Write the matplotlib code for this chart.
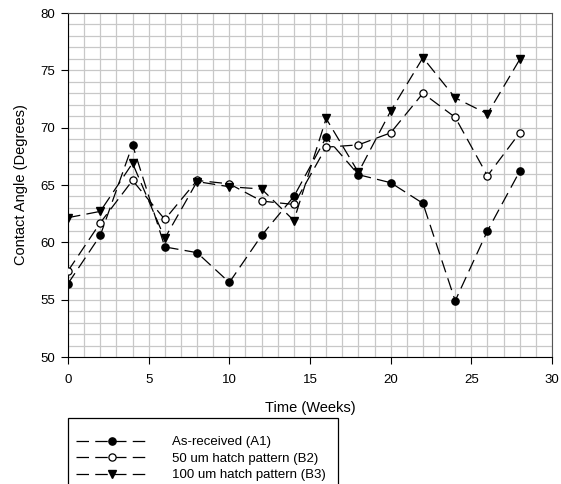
import matplotlib
matplotlib.use("Agg")
import matplotlib.pyplot as plt
from matplotlib.patches import Rectangle
import numpy as np

plt.rcParams['font.family'] = ['Liberation Sans', 'DejaVu Sans']

weeks = [0, 2, 4, 6, 8, 10, 12, 14, 16, 18, 20, 22, 24, 26, 28]
a1 = [56.4, 60.6, 68.5, 59.6, 59.1, 56.5, 60.6, 64.0, 69.15, 65.9, 65.2, 63.4, 54.9, 61.0, 66.2]
b2 = [57.5, 61.7, 65.4, 62.0, 65.4, 65.1, 63.6, 63.3, 68.3, 68.5, 69.55, 73.0, 70.9, 65.8, 69.55]
b3 = [62.15, 62.7, 66.9, 60.35, 65.3, 64.85, 64.65, 61.9, 70.8, 66.1, 71.45, 76.1, 72.6, 71.2, 75.95]
labels = ['As-received (A1)', '50 um hatch pattern (B2)', '100 um hatch pattern (B3)']
xticks = [0, 5, 10, 15, 20, 25, 30]
yticks = [50, 55, 60, 65, 70, 75, 80]

fig = plt.figure(figsize=(5.61, 4.84), dpi=100)
ax = fig.add_axes([68/561, 1-357/484, (552-68)/561, (357-13)/484])

dash = (0, (10, 5))
ax.plot(weeks, a1, linestyle=dash, color='black', lw=0.9, marker='o', ms=5.2,
        mfc='black', mec='black', label=labels[0], zorder=3)
ax.plot(weeks, b2, linestyle=dash, color='black', lw=0.9, marker='o', ms=5.2,
        mfc='white', mec='black', mew=0.9, label=labels[1], zorder=3)
ax.plot(weeks, b3, linestyle=dash, color='black', lw=0.9, marker='v', ms=5.8,
        mfc='black', mec='black', label=labels[2], zorder=3)

ax.set_xlim(0, 30)
ax.set_ylim(50, 80)
ax.set_xticks(xticks)
ax.set_yticks(yticks)
ax.set_xticks(np.arange(0, 31, 1), minor=True)
ax.set_yticks(np.arange(50, 81, 1), minor=True)
ax.tick_params(which='minor', length=0)
ax.tick_params(which='major', direction='out', length=5, width=0.8, labelsize=9.5, color='black')
ax.tick_params(axis='x', which='major', pad=7)
ax.tick_params(axis='y', which='major', pad=4)
ax.grid(True, which='both', color='#c8c8c8', lw=0.9, zorder=0)
ax.set_axisbelow(True)
for s in ['top', 'right']:
    ax.spines[s].set_color('#555555')
for s in ['left', 'bottom']:
    ax.spines[s].set_color('black')

ax.set_xlabel('Time (Weeks)', fontsize=10.5, labelpad=11)
ax.set_ylabel('Contact Angle (Degrees)', fontsize=10.5, labelpad=9)

rect = Rectangle((68/561, 1-490/484), (338-68)/561, (490-418)/484,
                 transform=fig.transFigure, fill=False, edgecolor='black', lw=0.9)
fig.patches.append(rect)

handles, lbls = ax.get_legend_handles_labels()
leg = fig.legend(handles, lbls, loc='upper left', bbox_to_anchor=(76/561, 1-436/484),
                 frameon=False, fontsize=9.5, handlelength=5.5, handletextpad=1.8,
                 labelspacing=0.32, borderpad=0, borderaxespad=0)

fig.savefig('out.png', dpi=100)
